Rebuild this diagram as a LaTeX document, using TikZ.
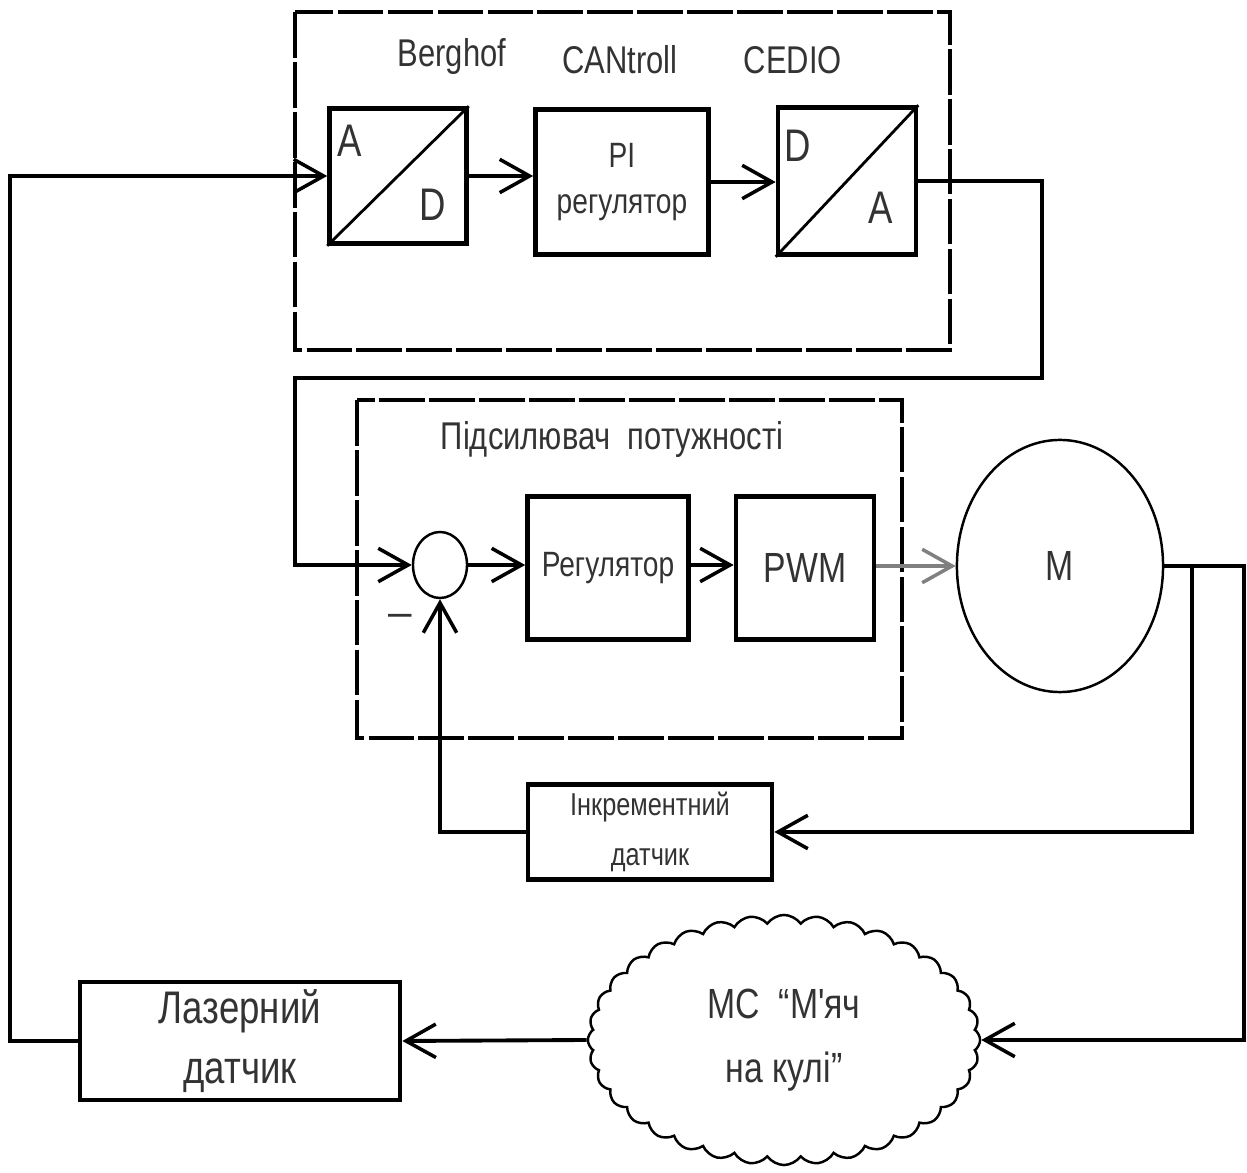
\documentclass[tikz,border=0pt]{standalone}
\usepackage{fontspec}
\setmainfont{Liberation Sans}
\newfontfamily\narrowfont[FakeStretch=0.8]{Liberation Sans}
\usetikzlibrary{positioning, arrows.meta, shapes.geometric, shapes.symbols, calc}

\begin{document}
\begin{tikzpicture}[x=0.01cm, y=-0.01cm,
  blk/.style={draw, line width=1.3pt, inner sep=0pt, align=center,
              font=\narrowfont\fontsize{10}{13}\selectfont, text=black!80},
  frame/.style={draw, line width=1.2pt, dash pattern=on 13pt off 1.2pt},
  arr/.style={-{Straight Barb[length=8.5pt, width=9.5pt, line width=1pt]}, line width=1.1pt},
  lbl/.style={font=\narrowfont\fontsize{11}{13}\selectfont, text=black!80, inner sep=0pt},
]
  \useasboundingbox (0,0) rectangle (1247,1173);

  % controller Berghof CANtroll
  \draw[frame] (295,12) rectangle (950,350);
  \node[lbl] (berg) at (452,57) {Berghof};
  \node[lbl] (cant) at (620,60) {CANtroll};
  \node[lbl] (cedio) at (793,60) {CEDIO};

  \node[blk, minimum width=1.37cm, minimum height=1.35cm] (ad) at (398,176) {};
  \draw[line width=0.8pt] (ad.south west) -- (ad.north east);
  \node[lbl, font=\narrowfont\fontsize{13}{13}\selectfont] at (350,141) {A};
  \node[lbl, font=\narrowfont\fontsize{13}{13}\selectfont] at (433,205) {D};

  \node[blk, minimum width=1.73cm, minimum height=1.45cm] (pi) at (622,182) {PI\\регулятор};

  \node[blk, minimum width=1.38cm, minimum height=1.47cm] (da) at (847,181) {};
  \draw[line width=0.8pt] (da.south west) -- (da.north east);
  \node[lbl, font=\narrowfont\fontsize{13}{13}\selectfont] at (798,146) {D};
  \node[lbl, font=\narrowfont\fontsize{13}{13}\selectfont] at (881,208) {A};

  % power amplifier
  \draw[frame] (357,400) rectangle (902,738);
  \node[lbl, font=\narrowfont\fontsize{11}{14}\selectfont] (amp) at (612,440) {Підсилювач~~потужності};

  \node[ellipse, draw, line width=0.7pt, minimum width=0.54cm, minimum height=0.66cm] (sum) at (440,565) {};
  \node[lbl, font=\fontsize{12}{12}\selectfont] at (400,620) {--};
  \node[blk, minimum width=1.61cm, minimum height=1.43cm] (reg) at (608,568) {Регулятор};
  \node[blk, minimum width=1.38cm, minimum height=1.43cm,
        font=\narrowfont\fontsize{12}{13}\selectfont] (pwm) at (805,568) {PWM};

  \node[ellipse, draw, line width=0.7pt, minimum width=2.06cm, minimum height=2.52cm,
        font=\narrowfont\fontsize{12}{13}\selectfont, text=black!80] (m) at (1060,566) {M};

  \node[blk, minimum width=2.44cm, minimum height=0.95cm,
        font=\narrowfont\fontsize{9}{14}\selectfont] (ink) at (650,832) {Інкрементний\\датчик};

  \node[cloud, draw, line width=0.7pt, cloud puffs=36, cloud puff arc=110, aspect=1.6,
        minimum width=3.92cm, minimum height=2.5cm, align=center,
        font=\narrowfont\fontsize{12}{18}\selectfont, text=black!80] (obj) at (784,1040) {МС~~“М'яч\\на кулі”};

  \node[blk, minimum width=3.2cm, minimum height=1.18cm,
        font=\narrowfont\fontsize{13}{17}\selectfont] (laser) at (240,1041) {Лазерний\\датчик};

  % signal paths
  \draw[arr] (laser.west) -- ++(-68,0) |- (ad.west);
  \draw[arr] (ad.east) -- (pi.west |- ad.east);
  \draw[arr] (pi.east) -- (da.west |- pi.east);
  \draw[arr] (da.east) -- ++(124,0) |- (295,378) |- (sum.west);
  \draw[arr] (sum.east) -- (reg.west |- sum.east);
  \draw[arr] (reg.east |- sum.east) -- (pwm.west |- sum.east);
  \draw[arr, draw=gray] (pwm.east |- m.west) -- (m.west);
  \draw[arr] (m.east) -- (1244,566) |- (obj.east);
  \coordinate (br) at (1192,566);
  \draw[arr] (br) |- (ink.east);
  \draw[arr] (ink.west) -| (sum.south);
  \draw[arr] (obj.west) -- (laser.east);
\end{tikzpicture}
\end{document}
